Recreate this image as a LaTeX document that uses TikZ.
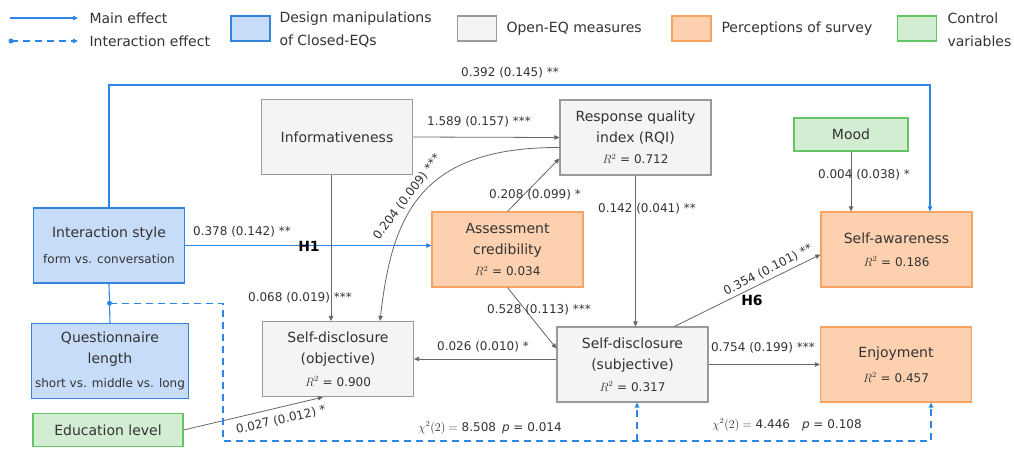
\documentclass[tikz,border=0pt]{standalone}
\usepackage{amsmath,amssymb}
\usepackage{fontspec}
\setmainfont{DejaVu Sans}
\usepackage{tikz}
\usetikzlibrary{arrows.meta, positioning}

\definecolor{lineblue}{HTML}{2C86E6}
\definecolor{boxblue}{HTML}{C7DCF8}
\definecolor{edgeblue}{HTML}{3383DB}
\definecolor{boxgray}{HTML}{F4F4F4}
\definecolor{edgegray}{HTML}{9A9A9A}
\definecolor{boxorange}{HTML}{FDD0B0}
\definecolor{edgeorange}{HTML}{F6A463}
\definecolor{boxgreen}{HTML}{D3EDD3}
\definecolor{edgegreen}{HTML}{63C463}
\definecolor{txt}{HTML}{333333}
\definecolor{arr}{HTML}{666666}

\begin{document}
\begin{tikzpicture}[x=1pt, y=-1pt, every node/.style={text=txt}]
    % 定义样式
    \tikzstyle{box} = [rectangle, line width=1.2pt, minimum width=151pt, minimum height=75pt, align=center, font=\fontsize{14}{21}\selectfont]
    \tikzstyle{design} = [box, draw=edgeblue, fill=boxblue]
    \tikzstyle{openeq} = [box, draw=edgegray, fill=boxgray]
    \tikzstyle{percep} = [box, draw=edgeorange, fill=boxorange]
    \tikzstyle{control} = [box, draw=edgegreen, fill=boxgreen, minimum height=33pt]
    \tikzstyle{legbox} = [rectangle, line width=1.2pt, minimum width=39pt, minimum height=25pt]
    \tikzstyle{legtext} = [anchor=west, align=left, font=\fontsize{14}{23}\selectfont]
    \tikzstyle{arrow} = [draw=arr, line width=0.8pt, -{Triangle[length=5pt,width=4.5pt]}]
    \tikzstyle{main} = [draw=lineblue, line width=1.1pt, -{Triangle[length=5pt,width=4.5pt]}]
    \tikzstyle{inter} = [draw=lineblue, line width=1.1pt, dash pattern=on 7pt off 5pt, -{Triangle[length=5pt,width=4.5pt]}]
    \tikzstyle{lbl} = [font=\fontsize{12}{14}\selectfont, inner sep=1pt]
    \tikzstyle{hyp} = [font=\fontsize{14}{16}\selectfont\bfseries, text=black, inner sep=1pt]
    \newcommand{\rsq}[1]{{\fontsize{12}{14}\selectfont $R^2$ = #1}}

    \useasboundingbox (0,0) rectangle (1014,448);

    % 图例
    \coordinate (legA) at (10,18);
    \coordinate (legB) at (11,41);
    \draw [main] (legA) -- (78,18);
    \fill [lineblue] (legB) circle (2.5pt);
    \draw [inter] (legB) -- (78,41);
    \node (tmain) [legtext] at (86,18) {Main effect};
    \node (tinter) [legtext] at (86,41) {Interaction effect};
    \node (kblue) [legbox, draw=edgeblue, fill=boxblue] at (250.5,28.5) {};
    \node (tblue) [legtext] at (276,29.5) {Design manipulations\\of Closed-EQs};
    \node (kgray) [legbox, draw=edgegray, fill=boxgray] at (477,28.5) {};
    \node (tgray) [legtext] at (503,29) {Open-EQ measures};
    \node (korange) [legbox, draw=edgeorange, fill=boxorange] at (691.5,28.5) {};
    \node (torange) [legtext] at (718,29) {Perceptions of survey};
    \node (kgreen) [legbox, draw=edgegreen, fill=boxgreen] at (917,28.5) {};
    \node (tgreen) [legtext] at (944,29.5) {Control\\variables};

    % 节点
    \node (inter) [design] at (109,245.5) {Interaction style\\[5pt]{\fontsize{12}{14}\selectfont form vs. conversation}};
    \node (quest) [design] at (110,361) {Questionnaire\\length\\[3pt]{\fontsize{12}{14}\selectfont short vs. middle vs. long}};
    \node (edu) [control, minimum width=150pt] at (108,430) {Education level};

    \node (info) [openeq] at (337,137) {Informativeness};
    \node (rqi) [openeq] at (635.5,137.5) {Response quality\\index (RQI)\\[0pt]\rsq{0.712}};
    \node (obj) [openeq] at (338,359) {Self-disclosure\\(objective)\\[2pt]\rsq{0.900}};
    \node (subj) [openeq] at (632.5,364.5) {Self-disclosure\\(subjective)\\[1pt]\rsq{0.317}};

    \node (assess) [percep] at (507.5,249.5) {Assessment\\credibility\\[0pt]\rsq{0.034}};
    \node (aware) [percep] at (896.5,249.5) {Self-awareness\\[2pt]\rsq{0.186}};
    \node (enjoy) [percep] at (896,364.5) {Enjoyment\\[4pt]\rsq{0.457}};
    \node (mood) [control, minimum width=114pt] at (851,134.5) {Mood};

    % 连接线
    \draw [main] (inter.north) -- (109,85) -| ([xshift=33.5pt]aware.north);
    \draw [main] (inter.east) -- (inter.east -| assess.west);
    \draw [arrow] (info.east) -- (rqi.west);
    \draw [arrow] ([xshift=-6pt]info.south) -- ([xshift=-7pt]obj.north);
    \draw [arrow] ([yshift=-10pt]rqi.west) .. controls (420,147) and (392,215) .. ([xshift=42pt]obj.north);
    \draw [arrow] (assess.north) -- ([yshift=-21pt]rqi.west);
    \draw [arrow] (rqi.south) -- (rqi.south |- subj.north);
    \draw [arrow] (mood.south) -- (mood.south |- aware.north);
    \draw [arrow] (assess.south) -- ([yshift=16pt]subj.west);
    \draw [arrow] (subj.west |- obj.east) -- (obj.east);
    \draw [arrow] ([xshift=42pt]subj.north) -- ([yshift=-5pt]aware.west);
    \draw [arrow] (subj.east) -- (enjoy.west);
    \draw [arrow] (edu.east) -- ([xshift=-15pt]obj.south);

    % 交互效应
    \draw [draw=lineblue, line width=1.1pt] (inter.south) -- (quest.north) coordinate[pos=0.5] (dot);
    \fill [lineblue] (dot) circle (2.5pt);
    \draw [inter] (dot) -| (223,441) -| ([xshift=35pt]enjoy.south);
    \draw [inter] (637,441) -- ([xshift=4.5pt]subj.south);

    % 系数
    \node (l1) [lbl] at (510,73) {0.392 (0.145) **};
    \node (l2) [lbl] at (242,232) {0.378 (0.142) **};
    \node (h1) [hyp] at (309,246) {H1};
    \node (l3) [lbl] at (479,122) {1.589 (0.157) ***};
    \node (l4) [lbl, rotate=53] at (407,197) {0.204 (0.009) ***};
    \node (l5) [lbl] at (535,195) {0.208 (0.099) *};
    \node (l6) [lbl] at (647,209) {0.142 (0.041) **};
    \node (l7) [lbl] at (864,175) {0.004 (0.038) *};
    \node (l8) [lbl] at (300,298) {0.068 (0.019) ***};
    \node (l9) [lbl] at (539,310) {0.528 (0.113) ***};
    \node (l10) [lbl] at (483,347) {0.026 (0.010) *};
    \node (l11) [lbl, rotate=27] at (768,270) {0.354 (0.101) **};
    \node (h6) [hyp] at (752,300) {H6};
    \node (l12) [lbl] at (763,348) {0.754 (0.199) ***};
    \node (l13) [lbl, rotate=13] at (281,420) {0.027 (0.012) *};
    \node (chi1) [lbl] at (490,428) {$\chi^2(2) =$ 8.508\enspace \textit{p} = 0.014};
    \node (chi2) [lbl] at (787,425) {$\chi^2(2) =$ 4.446\quad \textit{p} = 0.108};
\end{tikzpicture}
\end{document}
